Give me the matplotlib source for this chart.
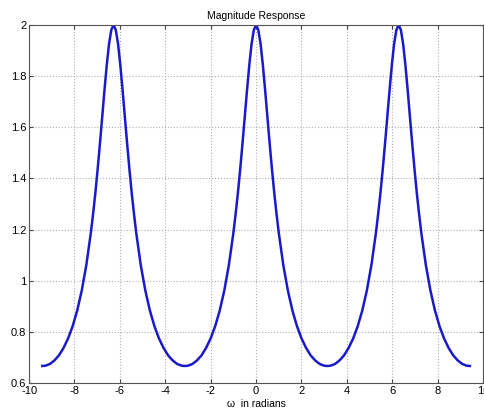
import matplotlib
matplotlib.use("Agg")
import matplotlib.pyplot as plt

plt.rcParams["font.family"] = ["Liberation Sans", "DejaVu Sans"]

# |H(w)|, w in radians
omega = [-9.42, -9.28, -9.08, -8.88, -8.68, -8.48, -8.28, -8.08, -7.88, -7.68,
         -7.48, -7.28, -7.18, -7.08, -6.98, -6.88, -6.78, -6.68, -6.58, -6.48,
         -6.38, -6.28, -6.18, -6.08, -5.98, -5.88, -5.78, -5.68, -5.58, -5.48,
         -5.38, -5.28, -5.08, -4.88, -4.68, -4.48, -4.28, -4.08, -3.88, -3.68,
         -3.48, -3.28, -3.14, -3.00, -2.80, -2.60, -2.40, -2.20, -2.00, -1.80,
         -1.60, -1.40, -1.20, -1.00, -0.90, -0.80, -0.70, -0.60, -0.50, -0.40,
         -0.30, -0.20, -0.10, 0.00, 0.10, 0.20, 0.30, 0.40, 0.50, 0.60,
         0.70, 0.80, 0.90, 1.00, 1.20, 1.40, 1.60, 1.80, 2.00, 2.20,
         2.40, 2.60, 2.80, 3.00, 3.14, 3.28, 3.48, 3.68, 3.88, 4.08,
         4.28, 4.48, 4.68, 4.88, 5.08, 5.28, 5.38, 5.48, 5.58, 5.68,
         5.78, 5.88, 5.98, 6.08, 6.18, 6.28, 6.38, 6.48, 6.58, 6.68,
         6.78, 6.88, 6.98, 7.08, 7.18, 7.28, 7.48, 7.68, 7.88, 8.08,
         8.28, 8.48, 8.68, 8.88, 9.08, 9.28, 9.42]
mag = [0.667, 0.668, 0.675, 0.689, 0.709, 0.738, 0.775, 0.823, 0.884, 0.962,
       1.061, 1.187, 1.262, 1.344, 1.436, 1.535, 1.639, 1.744, 1.842, 1.925,
       1.980, 2.000, 1.980, 1.925, 1.842, 1.744, 1.639, 1.535, 1.436, 1.344,
       1.262, 1.187, 1.061, 0.962, 0.884, 0.823, 0.775, 0.738, 0.709, 0.689,
       0.675, 0.668, 0.667, 0.668, 0.675, 0.689, 0.709, 0.738, 0.775, 0.823,
       0.884, 0.962, 1.061, 1.187, 1.262, 1.344, 1.436, 1.535, 1.639, 1.744,
       1.842, 1.925, 1.980, 2.000, 1.980, 1.925, 1.842, 1.744, 1.639, 1.535,
       1.436, 1.344, 1.262, 1.187, 1.061, 0.962, 0.884, 0.823, 0.775, 0.738,
       0.709, 0.689, 0.675, 0.668, 0.667, 0.668, 0.675, 0.689, 0.709, 0.738,
       0.775, 0.823, 0.884, 0.962, 1.061, 1.187, 1.262, 1.344, 1.436, 1.535,
       1.639, 1.744, 1.842, 1.925, 1.980, 2.000, 1.980, 1.925, 1.842, 1.744,
       1.639, 1.535, 1.436, 1.344, 1.262, 1.187, 1.061, 0.962, 0.884, 0.823,
       0.775, 0.738, 0.709, 0.689, 0.675, 0.668, 0.667]

xticks = [-10, -8, -6, -4, -2, 0, 2, 4, 6, 8, 10]
yticks = [0.6, 0.8, 1, 1.2, 1.4, 1.6, 1.8, 2]

fig = plt.figure(figsize=(4.85, 4.08), dpi=100)
ax = fig.add_axes([0.060, 0.061, 0.936, 0.878])
ax.plot(omega, mag, color="#1a1ac8", lw=1.8)
ax.set_xlim(-10, 10); ax.set_ylim(0.6, 2)
ax.set_xticks(xticks); ax.set_yticks(yticks)
ax.set_xticklabels([str(t) for t in xticks])
ax.set_yticklabels(["0.6", "0.8", "1", "1.2", "1.4", "1.6", "1.8", "2"])
ax.tick_params(direction="in", labelsize=8, length=3, top=True, right=True,
               color="#444444", pad=2)
ax.grid(True, ls=":", color="#b0b0b0", lw=0.8)
for s in ax.spines.values():
    s.set_color("#555555"); s.set_linewidth(0.8)
ax.set_title("Magnitude Response", fontsize=7.5, pad=4)
ax.set_xlabel("\u03c9  in radians", fontsize=7.5, labelpad=2)
fig.savefig("out.png", dpi=100)
